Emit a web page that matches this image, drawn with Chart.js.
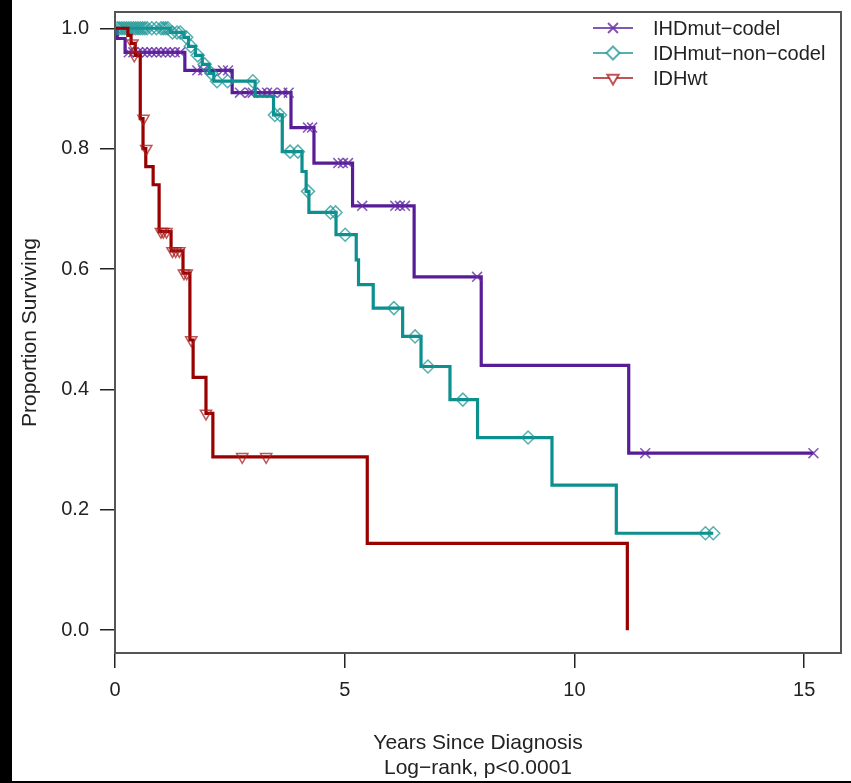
<!DOCTYPE html>
<html>
<head>
<meta charset="utf-8">
<script src="https://cdn.jsdelivr.net/npm/chart.js@4"></script>
<style>
  html, body { margin: 0; padding: 0; background: #000; }
  #wrap { position: absolute; left: 12px; top: 0; width: 839px; height: 781px; background: #fff; }
</style>
</head>
<body>
<div id="wrap"><canvas id="km"></canvas></div>
<script>
// group names
var groupNames = ['IHDmut\u2212codel', 'IDHmut\u2212non\u2212codel', 'IDHwt'];

// Kaplan-Meier steps (years, proportion surviving)
var codelTimes = [0, 0.05, 0.22, 1.52, 2.55, 3.83, 4.33, 5.17, 6.51, 7.97, 11.18, 15.2];
var codelSurv  = [1, 0.983, 0.96, 0.93, 0.893, 0.835, 0.776, 0.705, 0.587, 0.44, 0.294, 0.294];
var codelCensTimes = [0.3, 0.4, 0.5, 0.6, 0.7, 0.8, 0.9, 1.0, 1.1, 1.2, 1.3, 1.42,
  1.79, 1.92, 2.35, 2.46, 2.72, 2.94, 3.0, 3.2, 3.31, 3.42, 3.64, 3.78,
  4.2, 4.29, 4.86, 4.96, 5.07, 5.38, 6.1, 6.2, 6.31, 7.88, 11.54, 15.2];
var codelCensSurv = [0.96, 0.96, 0.96, 0.96, 0.96, 0.96, 0.96, 0.96, 0.96, 0.96, 0.96, 0.96,
  0.93, 0.93, 0.93, 0.93, 0.893, 0.893, 0.893, 0.893, 0.893, 0.893, 0.893, 0.893,
  0.835, 0.835, 0.776, 0.776, 0.776, 0.705, 0.705, 0.705, 0.705, 0.587, 0.294, 0.294];

var nonTimes = [0, 1.2, 1.5, 1.6, 1.75, 1.9, 2.05, 2.15, 3.05, 3.45, 3.64, 4.07, 4.16, 4.22,
  4.81, 5.25, 5.3, 5.62, 6.26, 6.66, 7.29, 7.89, 9.51, 10.91, 13.02];
var nonSurv = [1, 0.993, 0.985, 0.97, 0.955, 0.94, 0.925, 0.912, 0.887, 0.856, 0.795, 0.762, 0.729, 0.694,
  0.657, 0.615, 0.574, 0.535, 0.488, 0.438, 0.383, 0.32, 0.241, 0.161, 0.161];
var nonCensTimes = [0.05, 0.1, 0.15, 0.2, 0.25, 0.3, 0.35, 0.4, 0.45, 0.5, 0.55, 0.6, 0.65, 0.7, 0.8, 0.9,
  1.0, 1.05, 1.1, 1.15, 1.25, 1.35, 1.42, 1.55, 1.65, 1.8, 1.95, 2.1, 2.22, 2.45, 3.0,
  3.48, 3.59, 3.81, 3.98, 4.2, 4.69, 4.8, 5.01, 6.07, 6.53, 6.81, 7.57, 8.99, 12.85, 13.02];
var nonCensSurv = [1, 1, 1, 1, 1, 1, 1, 1, 1, 1, 1, 1, 1, 1, 1, 1,
  1, 1, 1, 1, 0.993, 0.993, 0.993, 0.985, 0.97, 0.955, 0.94, 0.925, 0.912, 0.912, 0.912,
  0.856, 0.856, 0.795, 0.795, 0.729, 0.694, 0.694, 0.657, 0.535, 0.488, 0.438, 0.383, 0.32, 0.161, 0.161];

var wtTimes = [0, 0.28, 0.35, 0.44, 0.55, 0.61, 0.67, 0.83, 0.96, 1.22, 1.48, 1.63, 1.7, 1.98, 2.13, 5.49, 11.15];
var wtSurv  = [1, 0.988, 0.975, 0.955, 0.85, 0.8, 0.77, 0.74, 0.662, 0.63, 0.593, 0.482, 0.42, 0.36, 0.288, 0.144, 0];
var wtCensTimes = [0.38, 0.42, 0.62, 0.68, 1.0, 1.05, 1.12, 1.25, 1.32, 1.4, 1.5, 1.56, 1.66, 1.98, 2.77, 3.29];
var wtCensSurv  = [0.975, 0.955, 0.85, 0.8, 0.662, 0.662, 0.662, 0.63, 0.63, 0.63, 0.593, 0.593, 0.482, 0.36, 0.288, 0.288];

var xTicks = [0, 5, 10, 15];
var yTicks = [0, 0.2, 0.4, 0.6, 0.8, 1.0];

var lineColors = ['#581c96', '#0b8f8f', '#990000'];
var markColors = ['rgba(100,45,165,0.8)', 'rgba(30,150,150,0.75)', 'rgba(170,30,30,0.75)'];
var markStyles = ['crossRot', 'rectRot', 'triangle'];
var markRot = [0, 0, 180];
var markSize = [7, 6.5, 6.5];

function pts(t, s) {
  var out = [];
  for (var i = 0; i < t.length; i++) out.push({x: t[i], y: s[i]});
  return out;
}

var steps = [pts(codelTimes, codelSurv), pts(nonTimes, nonSurv), pts(wtTimes, wtSurv)];
var cens = [pts(codelCensTimes, codelCensSurv), pts(nonCensTimes, nonCensSurv), pts(wtCensTimes, wtCensSurv)];

var datasets = [];
for (var g = 0; g < 3; g++) {
  datasets.push({
    type: 'line', label: groupNames[g], data: steps[g], stepped: true,
    borderColor: lineColors[g], borderWidth: 3.2, pointRadius: 0, fill: false,
    order: 6 - 2 * g
  });
  datasets.push({
    type: 'scatter', label: groupNames[g] + ' censor', data: cens[g],
    pointStyle: markStyles[g], pointRotation: markRot[g], pointRadius: markSize[g],
    borderColor: markColors[g], backgroundColor: 'rgba(0,0,0,0)', pointBorderWidth: 1.5,
    order: 5 - 2 * g
  });
}

var boxAndLegend = {
  id: 'boxAndLegend',
  afterDraw: function(chart) {
    var c = chart.ctx, a = chart.chartArea;
    c.save();
    c.strokeStyle = '#555';
    c.lineWidth = 2;
    c.strokeRect(a.left, a.top, a.right - a.left, a.bottom - a.top);
    // legend
    c.font = '20px "Liberation Sans", Arial, sans-serif';
    c.textBaseline = 'middle';
    for (var g = 0; g < 3; g++) {
      var y = a.top + 16 + g * 25;
      var x0 = a.right - 248;
      c.strokeStyle = markColors[g];
      c.lineWidth = 2;
      c.beginPath(); c.moveTo(x0, y); c.lineTo(x0 + 40, y); c.stroke();
      c.fillStyle = '#fff';
      Chart.helpers.drawPoint(c, {pointStyle: markStyles[g], rotation: markRot[g],
        radius: markSize[g], borderWidth: 1.5}, x0 + 20, y);
      c.fillStyle = '#222';
      c.fillText(groupNames[g], x0 + 60, y + 1);
    }
    c.restore();
  }
};

var font20 = {family: '"Liberation Sans", Arial, sans-serif', size: 20};
var font21 = {family: '"Liberation Sans", Arial, sans-serif', size: 21};

new Chart(document.getElementById('km'), {
  type: 'line',
  data: {datasets: datasets},
  plugins: [boxAndLegend],
  options: {
    responsive: true,
    maintainAspectRatio: false,
    animation: false,
    layout: {padding: {top: 12, right: 10, left: 0, bottom: 0}},
    plugins: {legend: {display: false}, tooltip: {enabled: false}},
    scales: {
      x: {
        type: 'linear', min: 0, max: 15.8,
        afterFit: function(s) { s.height = 128; s.paddingLeft = 0; s.paddingRight = 0; },
        afterBuildTicks: function(s) { s.ticks = xTicks.map(function(v) { return {value: v}; }); },
        ticks: {font: font20, color: '#222', padding: 10, maxRotation: 0},
        grid: {drawOnChartArea: false, drawTicks: true, tickLength: 15, color: '#222', lineWidth: 1.5},
        border: {display: false},
        title: {display: true, text: ['Years Since Diagnosis', 'Log\u2212rank, p<0.0001'],
          font: font21, color: '#222', padding: {top: 0, bottom: 0}}
      },
      y: {
        type: 'linear', min: -0.038, max: 1.027,
        afterFit: function(s) { s.width = 103; s.paddingTop = 0; s.paddingBottom = 0; },
        afterBuildTicks: function(s) { s.ticks = yTicks.map(function(v) { return {value: v}; }); },
        ticks: {font: font20, color: '#222', padding: 11,
          callback: function(v) { return Number(v).toFixed(1); }},
        grid: {drawOnChartArea: false, drawTicks: true, tickLength: 15, color: '#222', lineWidth: 1.5},
        border: {display: false},
        title: {display: true, text: 'Proportion Surviving', font: font21, color: '#222',
          padding: {top: 6, bottom: 0}}
      }
    }
  }
});
</script>
</body>
</html>
